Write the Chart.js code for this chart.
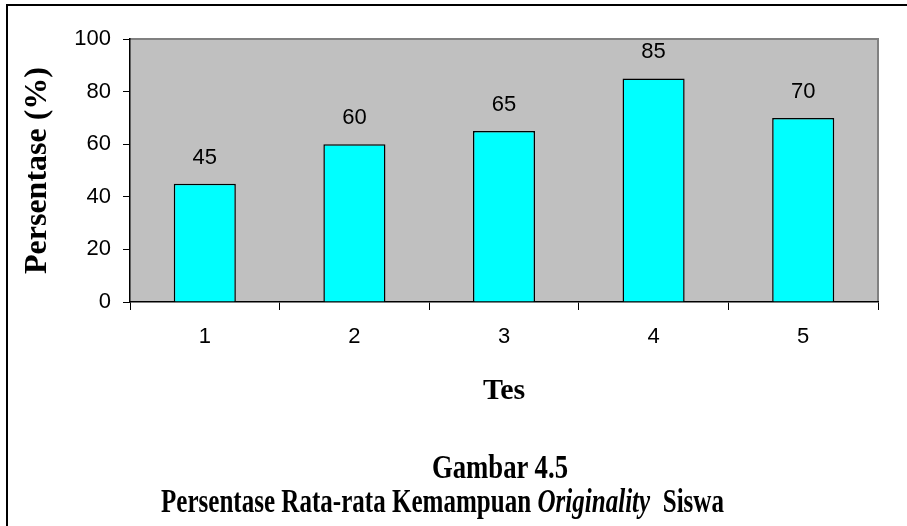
<!DOCTYPE html>
<html>
<head>
<meta charset="utf-8">
<script src="https://cdn.jsdelivr.net/npm/chart.js@4/dist/chart.umd.min.js"></script>
<style>
  html, body { margin: 0; padding: 0; background: #fff; }
  #wrap { position: relative; width: 907px; height: 526px; overflow: hidden; }
  #frame { position: absolute; left: 6px; top: 4px; width: 960px; height: 600px;
           border-left: 2px solid #000; border-top: 2px solid #000; }
  #chart { position: absolute; left: 0; top: 0; }
  .cap { position: absolute; font-family: "Liberation Serif", "Times New Roman", serif;
         font-weight: bold; color: #000; white-space: nowrap; transform-origin: 0 0;
         line-height: 1; }
</style>
</head>
<body>
<div id="wrap">
  <div id="frame"></div>
  <canvas id="chart" width="907" height="526"></canvas>
  <div class="cap" id="cap1" style="left:432px; top:451px; font-size:33px;">Gambar 4.5</div>
  <div class="cap" id="cap2" style="left:161px; top:485px; font-size:33px;">Persentase Rata-rata Kemampuan <i>Originality</i>&nbsp; Siswa</div>
</div>
<script>
// Test results: average originality score per test (%)
const categories = ['1', '2', '3', '4', '5'];
const percentages = [45, 60, 65, 85, 70];
const yTickValues = [0, 20, 40, 60, 80, 100];
const yTitle = 'Persentase (%)';
const xTitle = 'Tes';

// Squeeze the caption lines to their set widths (condensed serif look)
function fitWidth(id, target) {
  const el = document.getElementById(id);
  const w = el.getBoundingClientRect().width;
  el.style.transform = 'scaleX(' + (target / w) + ')';
}
fitWidth('cap1', 136);
fitWidth('cap2', 563);

const sansFont = '"Liberation Sans", Arial, sans-serif';
const serifFont = '"Liberation Serif", "Times New Roman", serif';

// Grey plot background with a darker top/right frame
const plotBackground = {
  id: 'plotBackground',
  beforeDraw(chart) {
    const { ctx, chartArea: a } = chart;
    ctx.save();
    ctx.fillStyle = '#c0c0c0';
    ctx.fillRect(a.left, a.top, a.right - a.left, a.bottom - a.top);
    ctx.strokeStyle = '#808080';
    ctx.lineWidth = 2;
    ctx.beginPath();
    ctx.moveTo(a.left, a.top);
    ctx.lineTo(a.right, a.top);
    ctx.lineTo(a.right, a.bottom);
    ctx.stroke();
    ctx.restore();
  }
};

// Value labels above each bar
const valueLabels = {
  id: 'valueLabels',
  afterDatasetsDraw(chart) {
    const { ctx } = chart;
    const meta = chart.getDatasetMeta(0);
    ctx.save();
    ctx.fillStyle = '#000';
    ctx.font = '22px ' + sansFont;
    ctx.textAlign = 'center';
    ctx.textBaseline = 'alphabetic';
    meta.data.forEach((bar, i) => {
      ctx.fillText(String(percentages[i]), bar.x, bar.y - 20);
    });
    ctx.restore();
  }
};

new Chart(document.getElementById('chart'), {
  type: 'bar',
  data: {
    labels: categories,
    datasets: [{
      data: percentages,
      backgroundColor: '#00ffff',
      borderColor: '#000000',
      borderWidth: 1.5,
      barPercentage: 0.415,
      categoryPercentage: 1
    }]
  },
  options: {
    responsive: false,
    animation: false,
    devicePixelRatio: 1,
    layout: { padding: { left: 0, top: 39, right: 29, bottom: 0 } },
    plugins: { legend: { display: false }, tooltip: { enabled: false } },
    scales: {
      x: {
        grid: { offset: true, drawOnChartArea: false, tickLength: 8, color: '#000', lineWidth: 1 },
        border: { color: '#000', width: 1.5 },
        ticks: { color: '#000', padding: 14, font: { family: sansFont, size: 22 } },
        title: {
          display: true, text: xTitle, color: '#000',
          font: { family: serifFont, size: 30, weight: 'bold' },
          padding: { top: 0, bottom: 117 }
        },
        afterFit(scale) { scale.height = 224; }
      },
      y: {
        min: 0, max: 100,
        afterBuildTicks(scale) { scale.ticks = yTickValues.map(v => ({ value: v })); },
        grid: { drawOnChartArea: false, tickLength: 7, color: '#000', lineWidth: 1 },
        border: { color: '#000', width: 1.5 },
        ticks: { color: '#000', padding: 12, font: { family: sansFont, size: 22 } },
        title: {
          display: true, text: yTitle, color: '#000',
          font: { family: serifFont, size: 32, weight: 'bold' },
          padding: { top: 19, bottom: 0 }
        },
        afterFit(scale) { scale.width = 130; }
      }
    }
  },
  plugins: [plotBackground, valueLabels]
});
</script>
</body>
</html>
